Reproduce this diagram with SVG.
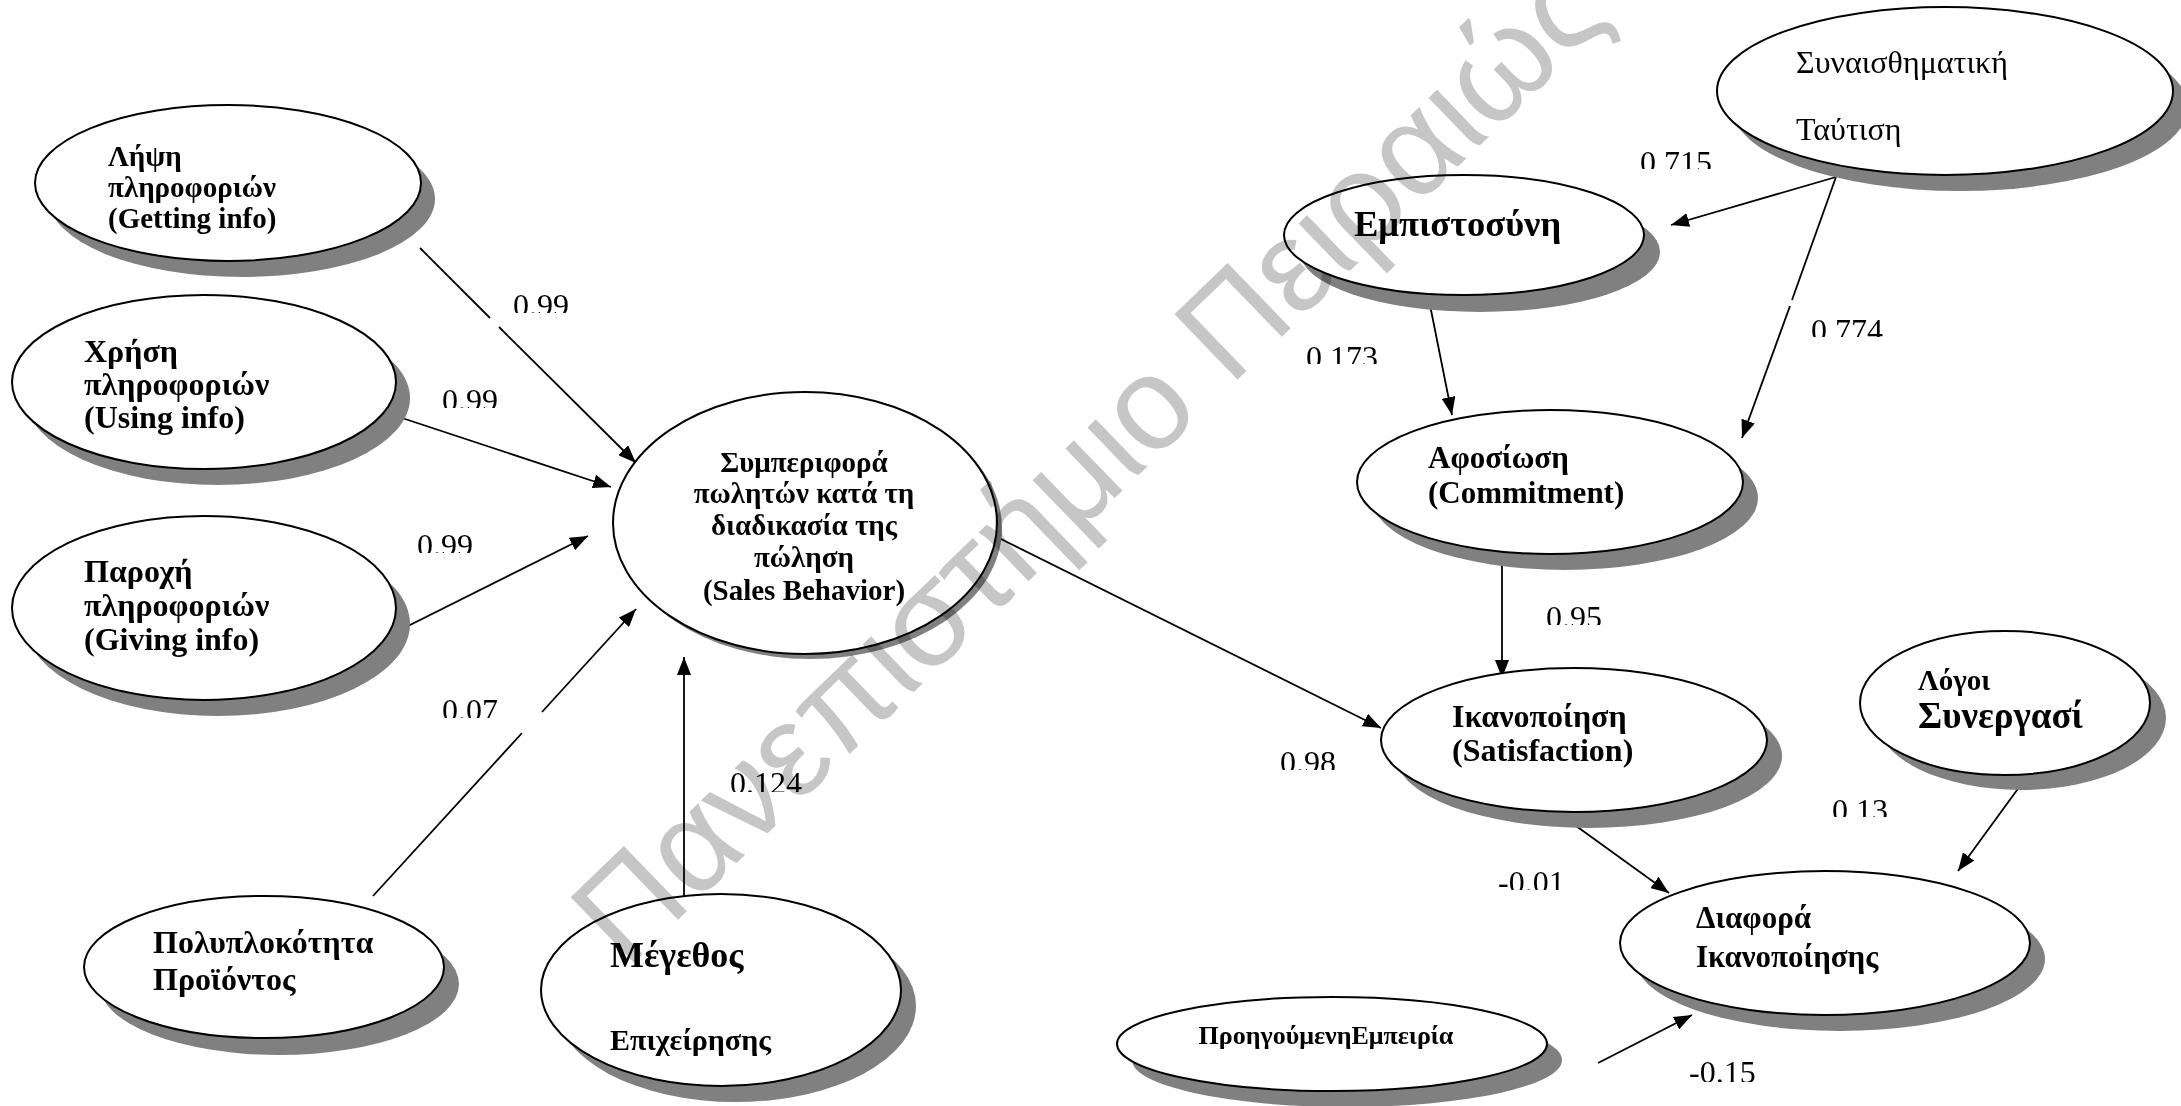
<svg xmlns="http://www.w3.org/2000/svg" width="2181" height="1106" viewBox="0 0 2181 1106">
  <style>
    .face { fill: #ffffff; stroke: #000000; stroke-width: 2; }
    .shadow { fill: #808080; stroke: none; }
    .b { font-family: "Liberation Serif", "Times New Roman", serif; font-weight: bold; fill: #000; }
    .r { font-family: "Liberation Serif", "Times New Roman", serif; font-weight: normal; fill: #000; }
    .lbl { font-family: "Liberation Serif", "Times New Roman", serif; font-size: 32px; fill: #000; }
    .edge { stroke: #000000; stroke-width: 1.8; fill: none; }
    .wm { font-family: "Liberation Sans", Arial, sans-serif; font-size: 132px; fill: #c6c6c6; mix-blend-mode: multiply; }
  </style>
  <defs>
    <marker id="arrow" markerUnits="userSpaceOnUse" markerWidth="20" markerHeight="14" refX="18" refY="7" orient="auto">
      <path d="M0,0 L18,7 L0,14 z" fill="#000"/>
    </marker>
    <!-- text boxes of the path coefficients cut their digits at the bottom -->
    <clipPath id="c1"><rect x="505" y="280" width="80" height="33"/></clipPath>
    <clipPath id="c2"><rect x="434" y="375" width="80" height="33"/></clipPath>
    <clipPath id="c3"><rect x="409" y="520" width="80" height="33"/></clipPath>
    <clipPath id="c4"><rect x="434" y="685" width="80" height="33"/></clipPath>
    <clipPath id="c5"><rect x="722" y="758" width="100" height="34"/></clipPath>
    <clipPath id="c6"><rect x="1632" y="137" width="100" height="32"/></clipPath>
    <clipPath id="c7"><rect x="1298" y="332" width="100" height="32"/></clipPath>
    <clipPath id="c8"><rect x="1803" y="305" width="100" height="32"/></clipPath>
    <clipPath id="c9"><rect x="1538" y="592" width="80" height="33"/></clipPath>
    <clipPath id="c10"><rect x="1272" y="737" width="80" height="33"/></clipPath>
    <clipPath id="c11"><rect x="1490" y="857" width="90" height="33"/></clipPath>
    <clipPath id="c12"><rect x="1824" y="785" width="80" height="32"/></clipPath>
    <clipPath id="c13"><rect x="1681" y="1047" width="90" height="35"/></clipPath>
  </defs>

  <rect x="0" y="0" width="2181" height="1106" fill="#ffffff"/>

  <!-- connectors -->
  <g id="connectors">
    <line class="edge" x1="420" y1="248" x2="490" y2="318"/>
    <line class="edge" x1="499" y1="327" x2="636" y2="463" marker-end="url(#arrow)"/>
    <line class="edge" x1="396" y1="416" x2="611" y2="487" marker-end="url(#arrow)"/>
    <line class="edge" x1="396" y1="632" x2="588" y2="536" marker-end="url(#arrow)"/>
    <line class="edge" x1="373" y1="896" x2="522" y2="733"/>
    <line class="edge" x1="542" y1="712" x2="636" y2="609" marker-end="url(#arrow)"/>
    <line class="edge" x1="684" y1="896" x2="684" y2="657" marker-end="url(#arrow)"/>
    <line class="edge" x1="997" y1="537" x2="1381" y2="728" marker-end="url(#arrow)"/>
    <line class="edge" x1="1836" y1="177" x2="1671" y2="225" marker-end="url(#arrow)"/>
    <line class="edge" x1="1836" y1="177" x2="1792" y2="300"/>
    <line class="edge" x1="1790" y1="306" x2="1742" y2="438" marker-end="url(#arrow)"/>
    <line class="edge" x1="1428" y1="295" x2="1452" y2="415" marker-end="url(#arrow)"/>
    <line class="edge" x1="1502" y1="558" x2="1502" y2="678" marker-end="url(#arrow)"/>
    <line class="edge" x1="1572" y1="823" x2="1669" y2="893" marker-end="url(#arrow)"/>
    <line class="edge" x1="2028" y1="775" x2="1958" y2="871" marker-end="url(#arrow)"/>
    <line class="edge" x1="1598" y1="1063" x2="1692" y2="1015" marker-end="url(#arrow)"/>
  </g>

  <!-- nodes -->
  <g id="node-getting-info">
    <ellipse class="shadow" cx="242" cy="199" rx="193" ry="78"/>
    <ellipse class="face" cx="228" cy="183" rx="193" ry="78"/>
    <text class="b" font-size="29" x="108" y="166">Λήψη</text>
    <text class="b" font-size="29" x="108" y="197">πληροφοριών</text>
    <text class="b" font-size="29" x="108" y="228">(Getting info)</text>
  </g>

  <g id="node-using-info">
    <ellipse class="shadow" cx="218" cy="398" rx="192" ry="87"/>
    <ellipse class="face" cx="204" cy="382" rx="192" ry="87"/>
    <text class="b" font-size="32" x="84" y="362">Χρήση</text>
    <text class="b" font-size="32" x="84" y="395">πληροφοριών</text>
    <text class="b" font-size="32" x="84" y="428">(Using info)</text>
  </g>

  <g id="node-giving-info">
    <ellipse class="shadow" cx="218" cy="624" rx="192" ry="92"/>
    <ellipse class="face" cx="204" cy="608" rx="192" ry="92"/>
    <text class="b" font-size="32" x="84" y="582">Παροχή</text>
    <text class="b" font-size="32" x="84" y="616">πληροφοριών</text>
    <text class="b" font-size="32" x="84" y="650">(Giving info)</text>
  </g>

  <g id="node-complexity">
    <ellipse class="shadow" cx="279" cy="984" rx="180" ry="71"/>
    <ellipse class="face" cx="264" cy="967" rx="180" ry="71"/>
    <text class="b" font-size="32" x="153" y="953">Πολυπλοκότητα</text>
    <text class="b" font-size="32" x="153" y="990">Προϊόντος</text>
  </g>

  <g id="node-size">
    <ellipse class="shadow" cx="736" cy="1006" rx="180" ry="96"/>
    <ellipse class="face" cx="721" cy="990" rx="180" ry="96"/>
    <text class="b" font-size="36" x="610" y="967">Μέγεθος</text>
    <text class="b" font-size="30" x="610" y="1050">Επιχείρησης</text>
  </g>

  <g id="node-sales-behavior">
    <ellipse class="shadow" cx="810" cy="528" rx="192" ry="131"/>
    <ellipse class="face" cx="805" cy="523" rx="192" ry="131"/>
    <g text-anchor="middle">
      <text class="b" font-size="29" x="804" y="472">Συμπεριφορά</text>
      <text class="b" font-size="29" x="804" y="503">πωλητών κατά τη</text>
      <text class="b" font-size="29" x="804" y="535">διαδικασία της</text>
      <text class="b" font-size="29" x="804" y="567">πώληση</text>
      <text class="b" font-size="29" x="804" y="600">(Sales Behavior)</text>
    </g>
  </g>

  <g id="node-emotional-identification">
    <ellipse class="shadow" cx="1960" cy="107" rx="228" ry="84"/>
    <ellipse class="face" cx="1945" cy="91" rx="228" ry="84"/>
    <text class="r" font-size="32" x="1796" y="73">Συναισθηματική</text>
    <text class="r" font-size="32" x="1796" y="140">Ταύτιση</text>
  </g>

  <g id="node-trust">
    <ellipse class="shadow" cx="1480" cy="252" rx="180" ry="60"/>
    <ellipse class="face" cx="1464" cy="235" rx="180" ry="60"/>
    <text class="b" font-size="36.5" x="1354" y="236">Εμπιστοσύνη</text>
  </g>

  <g id="node-commitment">
    <ellipse class="shadow" cx="1565" cy="498" rx="193" ry="72"/>
    <ellipse class="face" cx="1550" cy="482" rx="193" ry="72"/>
    <text class="b" font-size="31" x="1428" y="468">Αφοσίωση</text>
    <text class="b" font-size="31" x="1428" y="503">(Commitment)</text>
  </g>

  <g id="node-satisfaction">
    <ellipse class="shadow" cx="1589" cy="756" rx="193" ry="72"/>
    <ellipse class="face" cx="1574" cy="740" rx="193" ry="72"/>
    <text class="b" font-size="32" x="1452" y="727">Ικανοποίηση</text>
    <text class="b" font-size="32" x="1452" y="761">(Satisfaction)</text>
  </g>

  <g id="node-cooperation-reasons">
    <ellipse class="shadow" cx="2021" cy="718" rx="145" ry="72"/>
    <ellipse class="face" cx="2005" cy="703" rx="145" ry="72"/>
    <text class="b" font-size="29" x="1918" y="690">Λόγοι</text>
    <text class="b" font-size="37" x="1918" y="728">Συνεργασί</text>
  </g>

  <g id="node-satisfaction-difference">
    <ellipse class="shadow" cx="1840" cy="959" rx="205" ry="72"/>
    <ellipse class="face" cx="1825" cy="943" rx="205" ry="72"/>
    <text class="b" font-size="31" x="1696" y="928">Διαφορά</text>
    <text class="b" font-size="31" x="1696" y="967">Ικανοποίησης</text>
  </g>

  <g id="node-prior-experience">
    <ellipse class="shadow" cx="1347" cy="1060" rx="215" ry="47"/>
    <ellipse class="face" cx="1332" cy="1044" rx="215" ry="47"/>
    <text class="b" font-size="26" x="1326" y="1044" text-anchor="middle">ΠροηγούμενηΕμπειρία</text>
  </g>

  <!-- path coefficients -->
  <g id="coefficients">
    <text class="lbl" x="513" y="316" clip-path="url(#c1)">0.99</text>
    <text class="lbl" x="442" y="411" clip-path="url(#c2)">0.99</text>
    <text class="lbl" x="417" y="556" clip-path="url(#c3)">0.99</text>
    <text class="lbl" x="442" y="721" clip-path="url(#c4)">0.07</text>
    <text class="lbl" x="730" y="794" clip-path="url(#c5)">0.124</text>
    <text class="lbl" x="1640" y="173" clip-path="url(#c6)">0.715</text>
    <text class="lbl" x="1306" y="368" clip-path="url(#c7)">0.173</text>
    <text class="lbl" x="1811" y="341" clip-path="url(#c8)">0.774</text>
    <text class="lbl" x="1546" y="628" clip-path="url(#c9)">0.95</text>
    <text class="lbl" x="1280" y="773" clip-path="url(#c10)">0.98</text>
    <text class="lbl" x="1498" y="893" clip-path="url(#c11)">-0.01</text>
    <text class="lbl" x="1832" y="821" clip-path="url(#c12)">0.13</text>
    <text class="lbl" x="1689" y="1083" clip-path="url(#c13)">-0.15</text>
  </g>

  <!-- repository watermark, multiplied over the page -->
  <text class="wm" transform="translate(626,970) rotate(-44)">Πανεπιστήμιο Πειραιώς</text>
</svg>
